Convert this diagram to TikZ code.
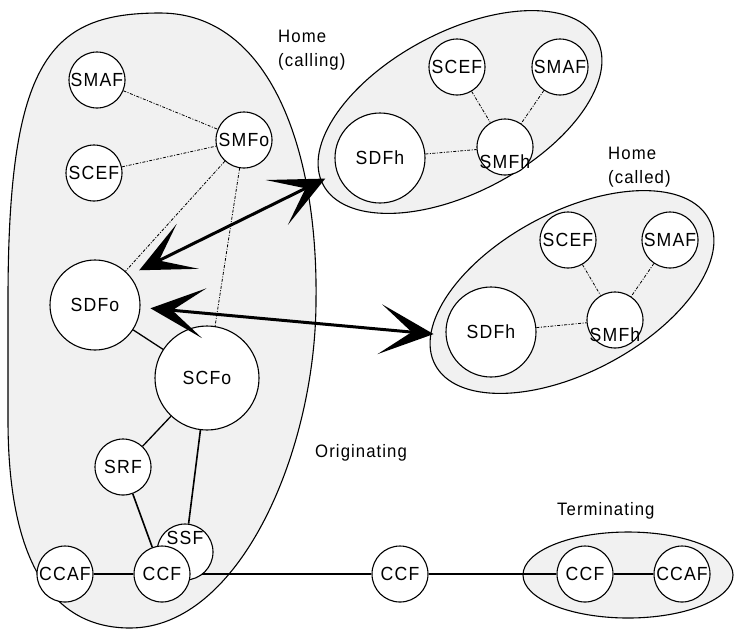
\documentclass[tikz,border=0pt]{standalone}
\usepackage{fontspec}
\setmainfont{Liberation Sans}[FakeStretch=0.93,LetterSpace=6]
\usetikzlibrary{arrows.meta}
\definecolor{regiongray}{gray}{0.945}
\pgfdeclarelayer{blobs}
\pgfdeclarelayer{links}
\pgfsetlayers{blobs,links,main}

\begin{document}
\begin{tikzpicture}[x=1pt,y=-1pt,
  fn/.style={circle,draw,fill=white,line width=1.1pt,inner sep=0pt,
    minimum size=56pt,font=\fontsize{19}{22}\selectfont},
  big/.style={fn,minimum size=90pt},
  huge/.style={fn,minimum size=104pt},
  lbl/.style={inner sep=0pt,font=\fontsize{19}{22}\selectfont},
  region/.style={draw,line width=1.1pt,fill=regiongray},
  mgmt/.style={line width=0.8pt,dash pattern=on 3pt off 1.5pt on 1pt off 1.5pt},
  bearer/.style={line width=1.3pt},
  heavy/.style={line width=1.6pt},
  txt/.style={font=\fontsize{18}{24}\selectfont,inner sep=0pt,align=left},
  bigarrow/.style={line width=3pt,
    {Stealth[length=54pt,width=50pt,inset=32pt]}-{Stealth[length=54pt,width=50pt,inset=32pt]}}
]
\useasboundingbox (0,0) rectangle (735,630);

% ---------- functional entities ----------
% originating side
\node[fn] (smafO) at (97,80) {SMAF};
\node[fn] (scefO) at (94,173) {SCEF};
\node[fn] (smfo) at (244,140) {SMFo};
\node[big] (sdfo) at (95,305) {SDFo};
\node[huge] (scfo) at (207,378) {SCFo};
\node[fn] (srf) at (123,467) {SRF};
\node[fn,label={[lbl,yshift=14pt]center:SSF}] (ssf) at (185,552) {};
\node[fn] (ccfO) at (162,574) {CCF};
\node[fn] (ccafO) at (65,574) {CCAF};
% transit and terminating side
\node[fn] (ccfM) at (400,574) {CCF};
\node[fn] (ccfT) at (585,574) {CCF};
\node[fn] (ccafT) at (682,574) {CCAF};
% home network of the calling party
\node[big] (sdfhA) at (380,158) {SDFh};
\node[fn] (scefA) at (457,67) {SCEF};
\node[fn] (smafA) at (560,67) {SMAF};
\node[fn,label={[lbl,yshift=-15pt]center:SMFh}] (smfhA) at (505,147) {};
% home network of the called party
\node[big] (sdfhB) at (491,332) {SDFh};
\node[fn] (scefB) at (568,240) {SCEF};
\node[fn] (smafB) at (670,240) {SMAF};
\node[fn,label={[lbl,yshift=-15pt]center:SMFh}] (smfhB) at (615,320) {};

% ---------- group labels ----------
\node[txt,anchor=north west] (lblcalling) at (278,30) {Home\\(calling)};
\node[txt,anchor=north west] (lblcalled) at (608,147) {Home\\(called)};
\node[txt,anchor=north west] (lblorig) at (315,444) {Originating};
\node[txt,anchor=north west] (lblterm) at (557,502) {Terminating};

% ---------- domains ----------
\begin{pgfonlayer}{blobs}
  \draw[region] (160,13) .. controls (270,13) and (318,150) .. (316,300)
    .. controls (316,450) and (240,628) .. (130,628)
    .. controls (40,628) and (8,540) .. (8,420)
    -- (8,300)
    .. controls (8,60) and (50,13) .. (160,13) -- cycle;
  \draw[region,rotate around={28:(460,112)}] (460,112) ellipse [x radius=155pt,y radius=80pt];
  \draw[region,rotate around={28:(572,292)}] (572,292) ellipse [x radius=155pt,y radius=80pt];
  \draw[region] (628,575) ellipse [x radius=105pt,y radius=43pt];
\end{pgfonlayer}

% ---------- connections ----------
\begin{pgfonlayer}{links}
  \draw[mgmt] (smafO) -- (smfo);
  \draw[mgmt] (scefO) -- (smfo);
  \draw[mgmt] (smfo) -- (sdfo);
  \draw[mgmt] (smfo) -- (scfo);
  \draw[bearer] (sdfo) -- (scfo);
  \draw[bearer] (scfo) -- (srf);
  \draw[heavy] (scfo) -- (ssf);
  \draw[heavy] (srf) -- (ccfO);
  \draw[bearer] (ccafO) -- (ccfO);
  \draw[bearer] (ccfO) -- (ccfM);
  \draw[bearer] (ccfM) -- (ccfT);
  \draw[bearer] (ccfT) -- (ccafT);
  \draw[mgmt] (sdfhA) -- (smfhA);
  \draw[mgmt] (scefA) -- (smfhA);
  \draw[mgmt] (smafA) -- (smfhA);
  \draw[mgmt] (sdfhB) -- (smfhB);
  \draw[mgmt] (scefB) -- (smfhB);
  \draw[mgmt] (smafB) -- (smfhB);
\end{pgfonlayer}

% ---------- data interfaces to the home networks ----------
\draw[bigarrow,shorten <=11pt,shorten >=13pt] (sdfo.41) -- (sdfhA.199);
\draw[bigarrow,shorten <=10pt,shorten >=12pt] (sdfo.357) -- (sdfhB.184);
\end{tikzpicture}
\end{document}
